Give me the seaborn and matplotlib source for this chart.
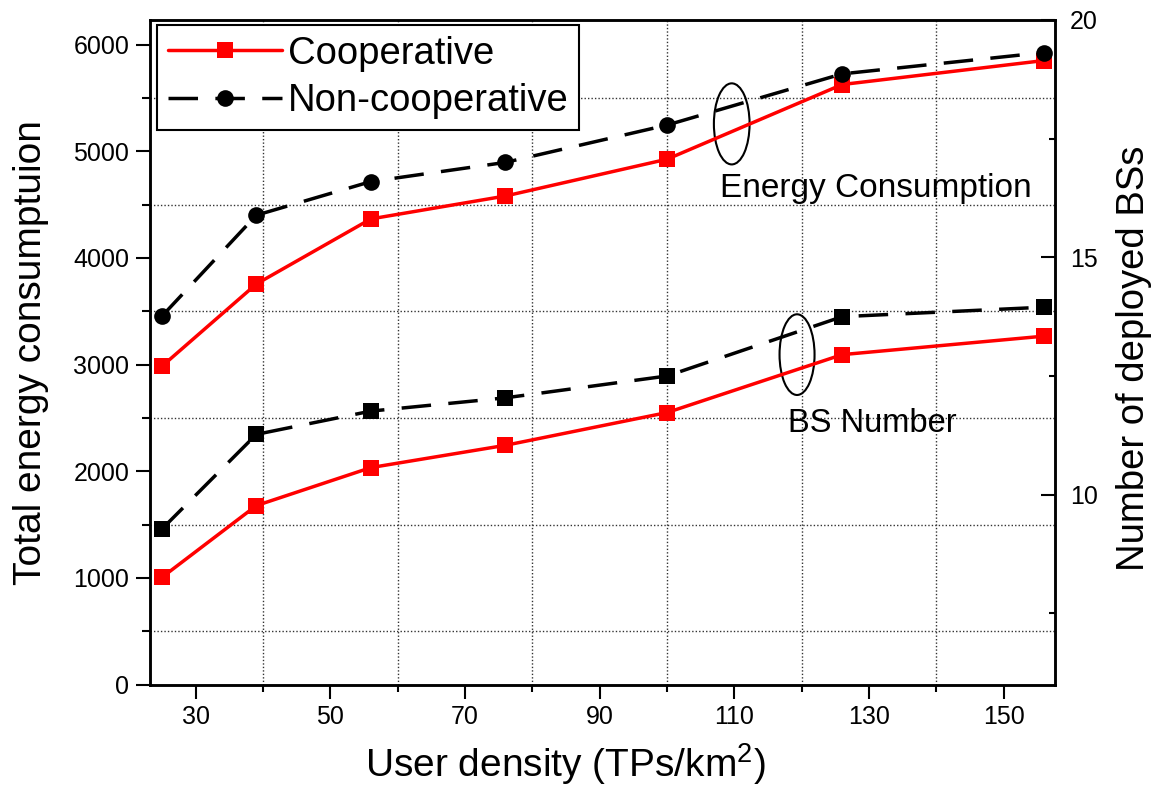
import numpy as np
import pandas as pd
import seaborn as sns
import matplotlib
matplotlib.use('Agg')
import matplotlib.pyplot as plt
from matplotlib.patches import Ellipse

density = [25, 39, 56, 76, 100, 126, 156]
energy_coop = [2985, 3755, 4365, 4580, 4925, 5625, 5850]
energy_noncoop = [3455, 4400, 4715, 4895, 5245, 5725, 5925]
bs_coop = [8.26, 9.77, 10.57, 11.04, 11.73, 12.95, 13.34]
bs_noncoop = [9.28, 11.27, 11.76, 12.04, 12.5, 13.75, 13.95]
series_names = ['Cooperative', 'Non-cooperative']

sns.set_style('white')
plt.rcParams['font.family'] = ['Liberation Sans', 'DejaVu Sans']
plt.rcParams['mathtext.default'] = 'regular'
for k in ['text.color', 'axes.labelcolor', 'xtick.color', 'ytick.color']:
    plt.rcParams[k] = 'black'

fig, ax = plt.subplots(figsize=(11.58, 7.87), dpi=100)
plt.subplots_adjust(left=0.1295, right=0.911, top=0.9746, bottom=0.1302)
ax2 = ax.twinx()

dash = (0, (8.5, 5))
sns.lineplot(x=density, y=energy_coop, ax=ax, color='red', marker='s', markersize=12,
             linewidth=2.5, markeredgewidth=0, markeredgecolor='red', legend=False)
sns.lineplot(x=density, y=energy_noncoop, ax=ax, color='black', marker='o', markersize=12,
             linewidth=2.5, linestyle=dash, markeredgewidth=0, markeredgecolor='black', legend=False)
sns.lineplot(x=density, y=bs_coop, ax=ax2, color='red', marker='s', markersize=12,
             linewidth=2.5, markeredgewidth=0, markeredgecolor='red', legend=False)
sns.lineplot(x=density, y=bs_noncoop, ax=ax2, color='black', marker='s', markersize=12,
             linewidth=2.5, linestyle=dash, markeredgewidth=0, markeredgecolor='black', legend=False)

ax.set_xlim(23.2, 157.6)
ax.set_ylim(0, 6230)
ax2.set_ylim(6, 20)

ax.set_xticks(range(30, 151, 20))
ax.set_xticks(range(40, 141, 20), minor=True)
ax.set_yticks(range(0, 6001, 1000))
ax.set_yticks(range(500, 6001, 1000), minor=True)
ax2.set_yticks([10, 15, 20])
ax2.set_yticks([7.5, 12.5, 17.5], minor=True)

ax.grid(False)
ax2.grid(False)
ax.grid(which='minor', linestyle=(0, (1, 1.5)), color='#333333', linewidth=1)

ax.tick_params(axis='both', which='major', direction='out', length=10, width=1.5,
               labelsize=18, pad=5, left=True, bottom=True)
ax.tick_params(axis='y', which='minor', direction='out', length=6, width=1.5, left=True)
ax.tick_params(axis='x', which='minor', direction='out', length=5, width=1.5, bottom=True)
ax2.tick_params(axis='y', which='major', direction='in', length=10, width=1.5,
                labelsize=18, pad=11, right=True)
ax2.tick_params(axis='y', which='minor', direction='in', length=4, width=1.5, right=True)

for a in (ax, ax2):
    for s in a.spines.values():
        s.set_linewidth(1.8)
        s.set_color('black')

ax.set_xlabel('User density (TPs/km$^2$)', fontsize=28)
ax.xaxis.set_label_coords(0.459, -0.085)
ax.set_ylabel('Total energy consumptuion', fontsize=28)
ax.yaxis.set_label_coords(-0.112, 0.5)
ax2.set_ylabel('Number of deployed BSs', fontsize=27.5)
ax2.yaxis.set_label_coords(1.067, 0.491)

ax.add_patch(Ellipse((109.6, 5256), width=5.3, height=760, fill=False, edgecolor='black', linewidth=1.5))
ax.text(107.9, 4653, 'Energy Consumption', fontsize=24, va='center', ha='left')
ax2.add_patch(Ellipse((119.3, 12.95), width=5.2, height=1.7, fill=False, edgecolor='black', linewidth=1.5))
ax2.text(118, 11.5, 'BS Number', fontsize=23.5, va='center', ha='left')

handles = ax.get_lines()[:2]
leg = ax2.legend(handles, series_names, loc='upper left', bbox_to_anchor=(0.0077, 0.9925),
                 fontsize=27.5, frameon=True, fancybox=False, edgecolor='black', framealpha=1,
                 borderaxespad=0, handlelength=3.0, handletextpad=0.15, labelspacing=0.3,
                 borderpad=0.28)
leg.get_frame().set_linewidth(1.5)

fig.savefig('out.png', dpi=100)
